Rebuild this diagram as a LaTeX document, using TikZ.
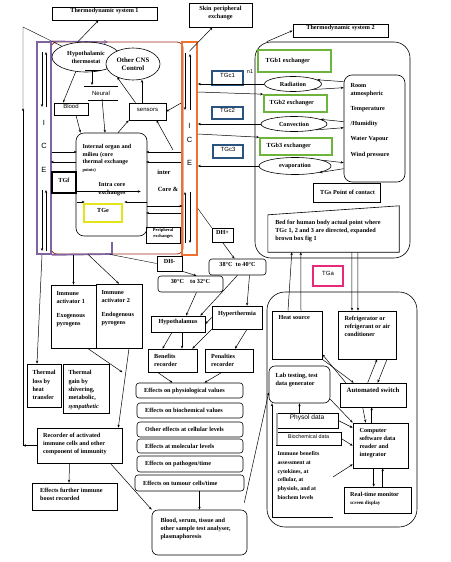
\documentclass[tikz,border=0pt]{standalone}
\usepackage{fontspec}
\setmainfont{Liberation Serif}
\setsansfont{Liberation Sans}
\usetikzlibrary{arrows.meta,shapes.geometric,fit}

\definecolor{icepurple}{HTML}{8064A2}
\definecolor{iceorange}{HTML}{F07030}
\definecolor{corebrown}{HTML}{9C2A1A}
\definecolor{tggreen}{HTML}{6CB43C}
\definecolor{tgblue}{HTML}{2A5480}
\definecolor{tgyellow}{HTML}{E4E41C}
\definecolor{tgpink}{HTML}{E8287A}

\tikzset{
  every node/.style={font=\fontsize{6.2}{8}\selectfont\bfseries},
  sf/.style={font=\fontsize{6}{7}\selectfont\sffamily},
  box/.style={draw, line width=.6pt, inner sep=0pt},
  lt/.style={anchor=west, align=left},
  oval/.style={draw, line width=.6pt, ellipse, inner sep=0pt},
  tgbox/.style={box, draw=tgblue, line width=1.3pt, sf},
  gbox/.style={box, draw=tggreen, line width=1.6pt},
  icebar/.style={draw=#1, line width=1.7pt, inner sep=0pt},
  ice/.style={font=\fontsize{7.5}{8}\selectfont\sffamily},
  ar/.style={-{Stealth[length=3pt,width=2.4pt]}, line width=.5pt},
}

\begin{document}
\begin{tikzpicture}[x=1pt,y=-1pt]
\useasboundingbox (0,0) rectangle (450,562);

%titles
\node[box, fit={(52,7) (157,20)}] (ts1) {Thermodynamic system 1};
\node[box, fit={(189,3) (252,27)}, align=center] (skin) {Skin peripheral\\exchange};
\node[box, fit={(293,24) (388,37)}] (ts2) {Thermodynamic system 2};

%thermodynamic system 1 frame
\node[draw=corebrown, line width=.8pt, rounded corners=6pt, inner sep=0pt, fit={(51,42) (183,254)}] (sys1) {};
\node[icebar=icepurple, fit={(37,42) (51,254)}] (iceL) {};
\node[icebar=iceorange, fit={(182,42) (197,255)}] (iceR) {};
\draw[icepurple, line width=1.7pt] (iceL.south east) -- (112,254) -- (112,242);
\draw[icepurple, line width=1.2pt, -{Stealth[length=4pt,width=4pt]}] (iceL.north east) -- (108,42);

%ice letters
\node[ice] at (44,123) {I};
\node[ice] at (44,146) {C};
\node[ice] at (44,170) {E};
\node[ice] at (189.5,126) {I};
\node[ice] at (189.5,140) {C};
\node[ice] at (189.5,163) {E};

%ice flows
\draw[ar] (42,52) -- (42,107);
\draw[ar] (46,107) -- (46,52);
\draw[ar] (42,190) -- (42,251);
\draw[ar] (46,251) -- (46,190);
\draw[ar] (185,53) -- (185,110);
\draw[ar] (190,110) -- (190,54);
\draw[ar] (185,243) -- (185,192);
\draw[ar] (190,192) -- (190,243);

%brain
\node[oval, minimum width=68pt, minimum height=30pt, align=center] (hyp) at (86,57) {Hypothalamic\\thermostat};
\node[oval, fill=white, minimum width=54pt, minimum height=32pt, align=center, font=\fontsize{6.8}{8}\selectfont\bfseries] (cns) at (133,64) {Other CNS\\Control};
\node[sf] (neural) at (101,93) {Neural};
\draw (84,86) -- (118,86);
\draw (88,100) -- (118,100);
\draw (85,70) -- (100,70);
\draw[ar] (92,70) -- (92,85);
\node[box, sf, fit={(54,103) (88,115)}] (blood) {Blood};
\node[box, sf, fit={(129,103) (166,120)}] (sens) {sensors};

%core
\node[box, rounded corners=8pt, fit={(76,133) (147,236)}] (core) {};
\node[anchor=north west, align=left, font=\fontsize{6}{7.5}\selectfont\bfseries] at (79,141) {Internal organ and\\milieu (core\\thermal exchange\\{\fontsize{4.5}{5}\selectfont points)}};
\node[align=center] (intra) at (112,189) {Intra core\\exchanges};
\node[box, line width=1.5pt, fit={(52,172) (76,193)}] (tgf) {TGf};
\node[box, draw=tgyellow, line width=1.6pt, fit={(84,204) (122,222)}] (tge) {TGe};
\node[font=\fontsize{6.4}{7}\selectfont\bfseries] at (164,172) {inter};
\node[font=\fontsize{6.4}{7}\selectfont\bfseries] at (168,189) {Core \&};
\node[box, fit={(146,227) (180,243)}, align=center, font=\fontsize{4.5}{5.2}\selectfont\bfseries] (perex) {Peripheral\\exchanges};

%brain links
\draw[ar] (hyp.120) -- ([xshift=-6pt]ts1.south);
\draw[ar] (hyp.235) -- ([xshift=-8pt]blood.north);
\draw[ar] ([xshift=5pt]blood.south) -- ([xshift=-31pt]core.north);
\draw[ar] ([xshift=1pt]neural.south) -- ([xshift=-6.5pt]core.north);
\draw[ar] ([xshift=-5.5pt]sens.north) -- ++(0,-23);
\draw[ar] ([xshift=-12pt]sens.north) -- (cns.220);
\draw[ar] ([yshift=45.5pt]iceR.west) -- (sens.east);
\draw[ar] ([xshift=6.5pt]core.north) -- (sens.south west);
\coordinate (inr) at (173,150);
\draw[ar] (inr) -- ([xshift=9pt]sens.south);
\draw[ar] ([yshift=-10pt]iceR.north) -- ([xshift=-8pt]skin.south);

%core exchanges
\draw[ar] ([yshift=-4pt]iceL.east) -- ++(25,0);
\draw[ar] ([yshift=22.5pt]core.west) -- ++(-25,0);
\draw[ar] ([yshift=-3.5pt]iceR.west) -- ++(-35,0);
\draw[ar] ([yshift=-13.5pt]iceR.west) -- ++(-35,0);
\draw[ar] ([yshift=-21.5pt]core.east) -- ++(35,0);
\draw[ar] ([yshift=-64.5pt]iceR.west) -- ++(-35,0);
\draw[ar] ([yshift=-9pt]tgf.east) -- ++(64,0);
\draw[ar] ([yshift=-19.5pt]tgf.east) -- ++(8,0);
\draw[ar] ([yshift=-17.5pt]core.east) -- ++(-23,0);

%thermodynamic system 2
\node[box, rounded corners=16pt, fit={(255,42) (410,258)}] (sys2) {};
\draw[ar] ([xshift=12pt]sys2.north west) -- (ts2.west);
\node[gbox, fit={(258,50) (331,72)}] (tgb1) {};
\node[lt] at ([xshift=5pt]tgb1.west) {TGb1 exchanger};
\node[gbox, fit={(264,95) (327,112)}] (tgb2) {};
\node[lt] at ([xshift=3pt]tgb2.west) {TGb2 exchanger};
\node[gbox, fit={(260,138) (332,155)}] (tgb3) {};
\node[lt] at ([xshift=4pt]tgb3.west) {TGb3 exchanger};
\node[oval, minimum width=57pt, minimum height=15pt] (rad) at (293,84) {Radiation};
\node[oval, minimum width=66pt, minimum height=15pt] (conv) at (294,124) {Convection};
\node[oval, minimum width=72pt, minimum height=17pt] (evap) at (295,166) {evaporation};
\node[box, rounded corners=8pt, fit={(344,75) (405,182)}] (room) {};
\node[anchor=north west, align=left] at (347,80) {Room\\atmospheric\\[7pt]Temperature\\[7pt]/Humidity\\[7pt]Water Vapour\\[8pt]Wind pressure};
\draw[ar] ([yshift=-7pt]room.north west) -- (rad.10);
\draw[ar] (rad.-15) -- ([yshift=-13pt]room.north west);
\draw[ar] ([yshift=-47pt]room.north west) -- (conv.10);
\draw[ar] (conv.-15) -- ([yshift=-53pt]room.north west);
\draw[ar] (evap.12) -- ([yshift=-88pt]room.north west);
\draw[ar] ([yshift=-94pt]room.north west) -- (evap.-15);

%transfer gradients
\node[tgbox, fit={(212,71) (243,85)}] (tgc1) {TGc1};
\node[tgbox, fit={(212,107) (243,119)}] (tgc2) {TGc2};
\node[tgbox, fit={(213,145) (243,158)}] (tgc3) {TGc3};
\node[font=\fontsize{5.5}{6}\selectfont\sffamily] at (250,72) {n1};
\draw[ar] (rad.west) -- (iceR.east |- rad.west);
\draw[ar] ([yshift=56.5pt]iceR.east) -- (tgb2.north west);
\draw[ar] (conv.west) -- (iceR.east |- conv.west);
\draw[ar] ([yshift=14.5pt]iceR.east) -- (tgb3.north west);
\draw[ar] (evap.west) -- (iceR.east |- evap.west);

%contact and bed
\node[box, fit={(313,183) (380,202)}] (tgs) {};
\node[lt] at ([xshift=4pt]tgs.west) {TGs Point of contact};
\node[inner sep=0pt, fit={(268,206) (399,252)}] (bed) {};
\draw[line width=.6pt] (bed.south west) -- ([yshift=-9pt]bed.north west) -- (bed.north east) -- (bed.south east) -- cycle;
\node[lt] at ([xshift=4pt,yshift=-2pt]bed.west) {Bed for human body actual point where\\TGc 1, 2 and 3 are directed, expanded\\brown box fig 1};

%devices
\node[box, draw=tgpink, line width=1.6pt, sf, fit={(313,266) (343,286)}] (tga) {TGa};
\node[box, rounded corners=18pt, fit={(267,292) (417,527)}] (lab) {};
\node[box, fit={(272,311) (322,359)}] (heat) {};
\node[anchor=west] at (275,318) {Heat source};
\node[box, fit={(338,311) (396,359)}] (fridge) {};
\node[anchor=north west, align=left] at (341,313) {Refrigerator or\\refrigerant or air\\conditioner};
\draw[ar] ([xshift=-9pt]heat.north) -- ([xshift=24pt]bed.south west);
\draw[ar] ([xshift=4pt]heat.north) -- ([xshift=33pt]bed.south west);
\draw[ar] ([xshift=84pt]bed.south west) -- ([xshift=-15pt]fridge.north);
\draw[ar] ([xshift=90pt]bed.south west) -- ([xshift=-9pt]fridge.north);
\node[box, rounded corners=6pt, fit={(269,366) (330,403)}] (labt) {};
\node[anchor=north west, align=left] at (272,370) {Lab testing, test\\data generator};
\node[box, fit={(340,383) (406,407)}] (sw) {};
\node[font=\fontsize{6.8}{7}\selectfont\bfseries] at (373,390) {Automated switch};
\draw[ar] ([xshift=6pt]sw.north west) -- ([yshift=5pt]heat.south east);
\draw[ar] (heat.south east) -- ([xshift=14pt]sw.north west);
\draw[ar] ([xshift=28pt]sw.north west) -- ([xshift=10pt]fridge.south);
\draw[ar] ([xshift=20pt]fridge.south) -- ([xshift=38pt]sw.north west);
\node[box, fit={(353,423) (408,468)}] (comp) {};
\node[anchor=north west, align=left] at (356,425) {Computer\\software data\\reader and\\integrator};
\draw[ar] ([xshift=23pt]sw.south west) -- ([xshift=13pt]comp.north west);
\draw[ar] ([xshift=19pt]comp.north west) -- ([xshift=32pt]sw.south west);
\node[box, fit={(276,413) (338,428)}, font=\fontsize{6.6}{7}\selectfont\sffamily] (phys) {Physol data};
\node[box, fit={(276,432) (341,445)}, font=\fontsize{5.4}{6}\selectfont\sffamily] (bioc) {Biochemical data};
\draw[gray!70, line width=2pt] ([xshift=1pt]phys.north west) -- ([xshift=1pt]bioc.south west);
\node[anchor=north west, align=left, font=\fontsize{5.8}{8.7}\selectfont\bfseries] (imm) at (274,448) {Immune benefits\\assessment at\\cytokines, at\\cellular, at\\physiols, and at\\biochem levels};
\coordinate (immc) at (272,517);
\draw (immc) -- (333,517);
\draw[ar] (immc) -- (immc |- labt.south);
\draw[ar] (phys.north -| labt.south) -- (labt.south);
\draw[ar] (phys.east) -- ([yshift=-5pt]comp.north west);
\draw[ar] (bioc.east) -- ([yshift=-23pt]comp.north west);
\draw[ar] (333,477) -- ([yshift=4pt]comp.south west);
\draw[ar] ([yshift=4pt]labt.south east) -- (comp.north west);
\node[box, fit={(344,487) (411,513)}] (mon) {};
\node[lt] at ([xshift=3pt,yshift=1.5pt]mon.west) {Real-time monitor\\{\fontsize{5}{6}\selectfont screen display}};
\draw[ar] ([xshift=21pt]comp.south west) -- ([xshift=30pt]mon.north west);
\draw[ar] ([xshift=39pt]mon.north west) -- ([xshift=30pt]comp.south west);

%temperature ranges
\node[box, fit={(212,228) (233,242)}] (dhp) {DH+};
\node[box, fit={(157,256) (182,271)}] (dhm) {DH-};
\node[box, rounded corners=3pt, fit={(209,259) (266,275)}] (hi) {38°C\ \ to 40°C};
\node[box, rounded corners=3pt, fit={(158,276) (223,292)}] (lo) {30°C\quad to 32°C};
\draw ([yshift=-60pt]iceR.east) -- (dhp.north west);
\draw[ar] (dhp.south) -- ([xshift=-3pt]hi.north);
\draw ([xshift=-7pt]sys1.south) -- (dhm.west);
\draw[ar] (dhm.south east) -- ([xshift=6pt]lo.north);
\node[box, fit={(151,316) (205,332)}] (hypo) {Hypothalamus};
\node[box, fit={(212,306) (262,329)}] (hyper) {};
\node[anchor=north] at (237,308) {Hyperthermia};
\draw[ar] (hi.south) -- ([xshift=-5pt]hypo.north east);
\draw[ar] ([xshift=6pt]lo.south) -- ([xshift=8pt]hypo.north);
\draw[ar] ([xshift=12pt]hi.south) -- ([xshift=10pt]hyper.north);
\draw[ar] (hyper.west) -- (hypo.east);
\node[box, fit={(148,349) (197,372)}] (ben) {};
\node[lt] at ([xshift=3pt]ben.west) {Benefits\\recorder};
\node[box, fit={(205,349) (253,372)}] (pen) {};
\node[lt] at ([xshift=3pt]pen.west) {Penalties\\recorder};
\draw[ar] ([xshift=-6pt]hypo.south) -- ([xshift=-10pt]ben.north);
\draw[ar] ([xshift=4pt]hypo.south) -- ([xshift=9.5pt]ben.north);
\draw[ar] (hyper.south west) -- ([xshift=-5pt]ben.north east);
\draw[ar] ([xshift=10pt]hyper.south) -- ([xshift=6pt]pen.north);

%effects
\node[box, rounded corners=3pt, fit={(136,383) (243,398)}] (eff1) {};
\node[lt] at ([xshift=5pt]eff1.west) {Effects on physiological values};
\node[box, rounded corners=3pt, fit={(137,403) (243,418)}] (eff2) {};
\node[lt] at ([xshift=5pt]eff2.west) {Effects on biochemical values};
\node[box, rounded corners=3pt, fit={(137,422) (243,437)}] (eff3) {};
\node[lt] at ([xshift=5pt]eff3.west) {Other effects at cellular levels};
\node[box, rounded corners=3pt, fit={(137,439) (243,453)}] (eff4) {};
\node[lt] at ([xshift=5pt]eff4.west) {Effects at molecular levels};
\node[box, rounded corners=3pt, fit={(137,456) (243,472)}] (eff5) {};
\node[lt] at ([xshift=5pt]eff5.west) {Effects on pathogen/time};
\node[box, rounded corners=3pt, fit={(135,475) (244,491)}] (eff6) {};
\node[lt] at ([xshift=5pt]eff6.west) {Effects on tumour cells/time};
\draw[ar] ([xshift=-15pt]ben.south) -- ([xshift=-17pt]eff1.north);
\draw[ar] ([xshift=-7pt]pen.south) -- ([xshift=15pt]eff1.north);
\node[box, rounded corners=6pt, fit={(152,510) (247,555)}] (serum) {};
\node[anchor=north west, align=left] at (157,515) {Blood, serum, tissue and\\other sample test analyser,\\plasmaphoresis};
\draw[ar] (serum.north |- eff6.south) -- (serum.north);
\draw[ar] ([xshift=-3pt,yshift=7pt]serum.north east) -- ([yshift=-8pt]labt.west);

%immune branch
\node[box, fit={(51,285) (96,348)}] (ia1) {};
\node[anchor=north west, align=left] at (53,288) {Immune\\activator 1\\[6pt]Exogenous\\pyrogens};
\node[box, fit={(96,284) (142,348)}] (ia2) {};
\node[anchor=north west, align=left] at (98,287) {Immune\\activator 2\\[6pt]Endogenous\\pyrogens};
\draw[ar] (ia1.north |- iceL.south) -- (ia1.north);
\draw[ar] ([xshift=-29pt]sys1.south) -- (ia2.north);
\node[box, fit={(27,364) (61,407)}] (tloss) {};
\node[anchor=north west, align=left, font=\fontsize{6.2}{8.3}\selectfont\bfseries] at (29,367) {Thermal\\loss by\\heat\\transfer};
\node[box, fit={(63,364) (109,413)}] (tgain) {};
\node[anchor=north west, align=left, font=\fontsize{6.2}{8.3}\selectfont\bfseries] at (65,367) {Thermal\\gain by\\shivering,\\metabolic,\\\textit{sympathetic}};
\draw[ar] ([xshift=-2pt]iceL.south) -- ([xshift=-7pt]tloss.north);
\node[box, fit={(37,428) (122,463)}] (rec) {};
\node[lt] at ([xshift=3pt,yshift=2pt]rec.west) {Recorder of activated\\immune cells and other\\component of immunity};
\draw[ar] ([xshift=14pt]ia1.south) -- ++(35,24);
\draw[ar] ([xshift=10pt]ia2.south) -- ([xshift=-4pt]rec.north east);
\node[box, fit={(32,483) (117,510)}] (efb) {};
\node[lt] at ([xshift=5pt,yshift=2pt]efb.west) {Effects further immune\\boost recorded};
\draw[ar] ([xshift=-10pt]rec.south) -- ([xshift=-5.5pt]efb.north);
\draw[ar] ([xshift=-12pt]rec.south east) -- (serum.north west);

%feedback loop
\coordinate (lpb) at (23,445.5);
\coordinate (lpt) at (23,27);
\draw[ar] (rec.west) -- (lpb);
\draw[ar] (lpb) -- (23,108);
\draw (23,108) -- (lpt) -- (hyp.north west);

\end{tikzpicture}
\end{document}
